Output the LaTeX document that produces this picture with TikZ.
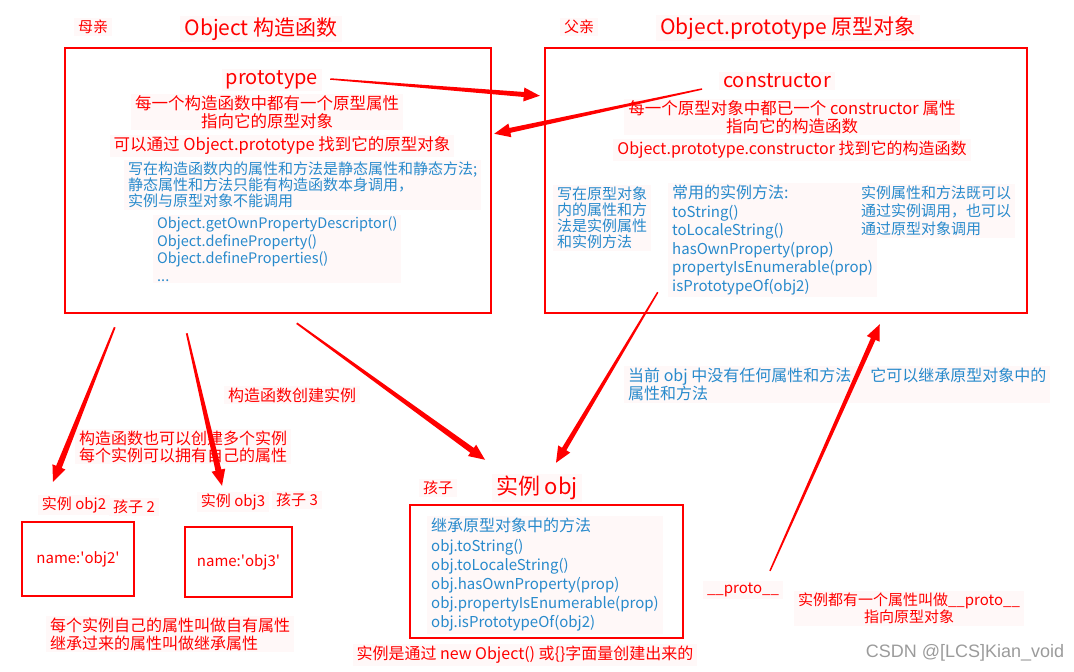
\documentclass[tikz,border=0pt]{standalone}
\usepackage{fontspec}
\setmainfont{Noto Sans CJK SC}
\newfontfamily\rawfont{Noto Sans CJK SC}
\newfontfamily\wmfont{Liberation Sans}
\usepackage{tikz}
\usetikzlibrary{calc}
\definecolor{LineRed}{RGB}{255,0,0}
\definecolor{NoteBlue}{RGB}{40,138,204}
\definecolor{BgPink}{RGB}{255,248,248}
\definecolor{MarkGray}{RGB}{155,155,155}
\colorlet{ArrowRed}{LineRed}
\tikzset{
  txt/.style={fill=BgPink, inner xsep=4pt, inner ysep=2pt},
  lbl/.style={txt, text=LineRed, font=\fontsize{15}{17}\selectfont},
  ttl/.style={txt, text=LineRed, font=\fontsize{21}{24}\selectfont},
  keyw/.style={txt, text=LineRed, font=\fontsize{20}{24}\selectfont},
  rednote/.style={txt, text=LineRed, align=center, font=\fontsize{16.5}{17.5}\selectfont},
  bluenote/.style={txt, text=NoteBlue, align=left, font=\fontsize{15}{16}\selectfont},
  bluelist/.style={txt, text=NoteBlue, align=left, font=\fontsize{15}{18.6}\selectfont},
  redbox/.style={draw=LineRed, line width=2.5pt, text=LineRed, font=\fontsize{15}{17}\selectfont},
}
\newcommand{\bighead}[1]{{\fontsize{16}{18}\selectfont #1}}
\newcommand{\sq}{{\rawfont '}}
% tapered red arrow: [shaft half width]{tail}{head}
\newcommand{\redarrow}[3][2.6]{%
  \path (#2) coordinate (ra-t) (#3) coordinate (ra-h);
  \path ($(ra-h)!16pt!(ra-t)$) coordinate (ra-b);
  \fill[ArrowRed] ($(ra-t)!0.3*#1pt!90:(ra-h)$) -- ($(ra-b)!#1pt!90:(ra-h)$)
    -- ($(ra-b)!7pt!90:(ra-h)$) -- (ra-h) -- ($(ra-b)!7pt!-90:(ra-h)$)
    -- ($(ra-b)!#1pt!-90:(ra-h)$) -- ($(ra-t)!0.3*#1pt!-90:(ra-h)$) -- cycle;}

\begin{document}
\begin{tikzpicture}[x=1pt, y=-1pt]
  \useasboundingbox (0,0) rectangle (1074,672);

  \node[lbl] (mother) at (93,27) {母亲};
  \node[ttl] (ctortitle) at (261,29) {Object 构造函数};
  \node[lbl] (father) at (579,27) {父亲};
  \node[ttl] (prototitle) at (788,28) {Object.prototype 原型对象};

  \node[redbox, minimum width=426pt, minimum height=265pt] (lbox) at (278,180.5) {};
  \node[redbox, minimum width=482pt, minimum height=265pt] (rbox) at (786,180.5) {};

  % constructor side
  \node[keyw] (proto) at (272,80) {prototype};
  \node[rednote] (protonote) at (267,112) {每一个构造函数中都有一个原型属性\\指向它的原型对象};
  \node[rednote] (protofind) at (282,146) {可以通过 Object.prototype 找到它的原型对象};
  \node[bluenote, anchor=west] (staticnote) at (124,185) {写在构造函数内的属性和方法是静态属性和静态方法;\\静态属性和方法只能有构造函数本身调用，\\实例与原型对象不能调用};
  \node[bluelist, anchor=west, font=\fontsize{14.5}{17.5}\selectfont] (staticlist) at (153,249) {Object.getOwnPropertyDescriptor()\\Object.defineProperty()\\Object.defineProperties()\\...};

  % prototype side
  \node[keyw] (ctor) at (777,81) {constructor};
  \node[rednote] (ctornote) at (792,117) {每一个原型对象中都已一个 constructor 属性\\指向它的构造函数};
  \node[rednote, font=\fontsize{16}{17}\selectfont] (ctorfind) at (792,150) {Object.prototype.constructor 找到它的构造函数};
  \node[bluenote, anchor=west] (instnote) at (553,218) {写在原型对象\\内的属性和方\\法是实例属性\\和实例方法};
  \node[bluelist, anchor=west] (methods) at (668,240) {\bighead{常用的实例方法:}\\toString()\\toLocaleString()\\hasOwnProperty(prop)\\propertyIsEnumerable(prop)\\isPrototypeOf(obj2)};
  \node[bluenote, anchor=west, font=\fontsize{15}{18}\selectfont] (callnote) at (857,211) {实例属性和方法既可以\\通过实例调用，也可以\\通过原型对象调用};

  % middle notes
  \node[rednote, font=\fontsize{16}{17}\selectfont] (create) at (292,395) {构造函数创建实例};
  \node[bluenote, anchor=west, font=\fontsize{16}{17}\selectfont] (inherit) at (624,384.5) {当前 obj 中没有任何属性和方法\hspace{19pt}它可以继承原型对象中的\\属性和方法};
  \node[rednote, font=\fontsize{16}{17}\selectfont] (multi) at (183,446.5) {构造函数也可以创建多个实例\\每个实例可以拥有自己的属性};

  % instances
  \node[lbl] (obj2lbl) at (74,505) {实例 obj2};
  \node[lbl] (kid2) at (134,507) {孩子 2};
  \node[lbl] (obj3lbl) at (233,502) {实例 obj3};
  \node[lbl] (kid3) at (297,500) {孩子 3};
  \node[redbox, minimum width=112pt, minimum height=74pt] (obj2box) at (78,559) {name:\sq obj2\sq};
  \node[redbox, minimum width=107pt, minimum height=70pt] (obj3box) at (238.5,562) {name:\sq obj3\sq};
  \node[rednote, align=left, anchor=west, font=\fontsize{16}{18}\selectfont] (ownnote) at (46,634) {每个实例自己的属性叫做自有属性\\继承过来的属性叫做继承属性};

  \node[lbl] (kid) at (438,488) {孩子};
  \node[ttl, font=\fontsize{22}{24}\selectfont] (objttl) at (537,488) {实例 obj};
  \node[redbox, minimum width=273pt, minimum height=133pt] (objbox) at (546.5,571.5) {};
  \node[bluelist, anchor=west, font=\fontsize{15}{19.2}\selectfont] (objmethods) at (427,575) {\bighead{继承原型对象中的方法}\\obj.toString()\\obj.toLocaleString()\\obj.hasOwnProperty(prop)\\obj.propertyIsEnumerable(prop)\\obj.isPrototypeOf(obj2)};
  \node[rednote, font=\fontsize{16}{17}\selectfont] (literal) at (525,655) {实例是通过 new Object() 或\{\}字面量创建出来的};
  \node[rednote, font=\fontsize{15}{17}\selectfont] (protolbl) at (743,590) {\_\_proto\_\_};
  \node[rednote, font=\fontsize{15}{17}\selectfont] (protonote2) at (909,608.5) {实例都有一个属性叫做\_\_proto\_\_\\指向原型对象};
  \node[text=MarkGray, font=\wmfont\fontsize{18}{20}\selectfont] (wmark) at (965,653) {CSDN @[LCS]Kian\_void};

  \redarrow[2.5]{$(proto.east)+(8,-1)$}{$(rbox.north west)+(-4,49)$}
  \redarrow[2.5]{$(ctor.west)+(-17,8)$}{$(lbox.north east)+(2,87)$}
  \redarrow[3]{$(lbox.south west)+(51,13)$}{$(obj2box.north)+(-25,-39)$}
  \redarrow[3]{$(lbox.south west)+(123,19)$}{$(obj3box.north)+(-16.5,-40)$}
  \redarrow[3]{$(lbox.south west)+(233,9)$}{$(objbox.north)+(-61.5,-44)$}
  \redarrow[2.5]{$(rbox.south west)+(114,-22)$}{$(objbox.north)+(9.5,-41)$}
  \redarrow[2.5]{$(protolbl.north)+(27,-10)$}{$(rbox.south west)+(336,10)$}
\end{tikzpicture}
\end{document}
